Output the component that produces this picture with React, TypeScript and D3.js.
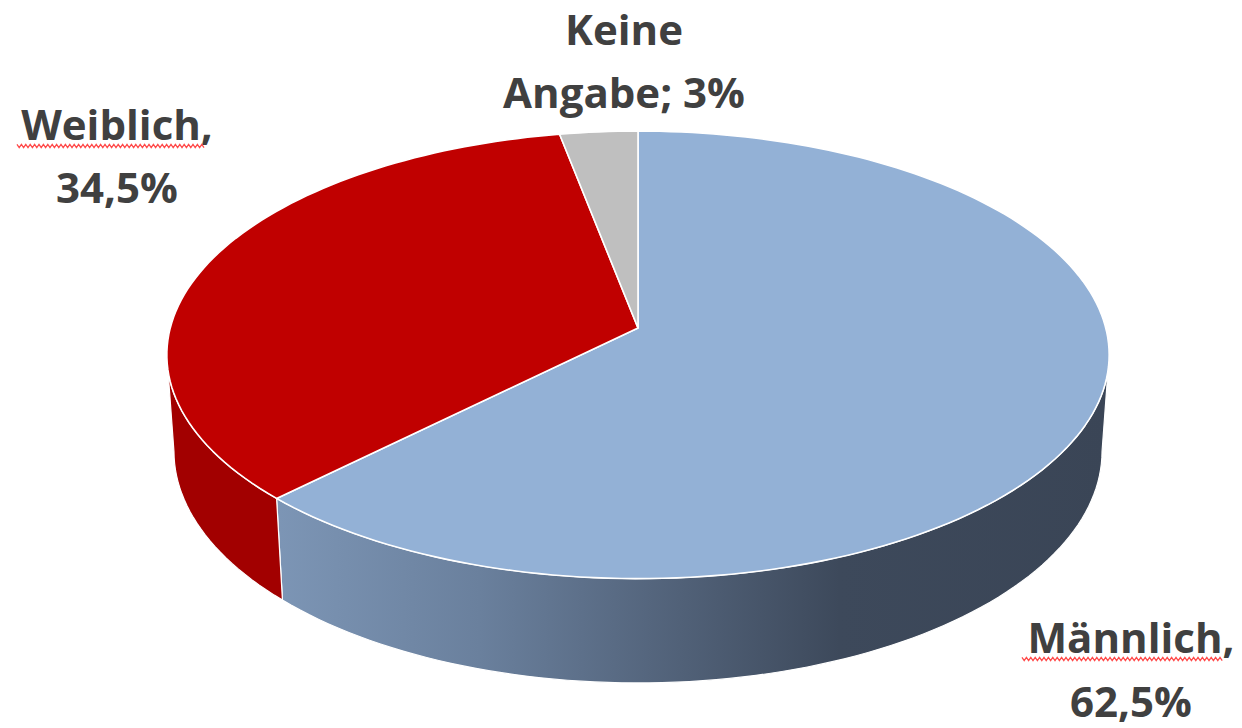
import { useMemo } from "react";
import * as d3 from "d3";

const categories = ["Männlich", "Weiblich", "Keine Angabe"];
const shares = [62.5, 34.5, 3];
const labelLines = [
  ["Männlich,", "62,5%"],
  ["Weiblich,", "34,5%"],
  ["Keine", "Angabe; 3%"],
];
const topColors = ["#93B1D6", "#C00000", "#BFBFBF"];

const WIDTH = 1242;
const HEIGHT = 728;

// pie geometry fitted to the picture: centre, perspective and thickness
const CX = 638;
const CY = 328;
const TILT = 0.491; // radians
const DIST = 7.35;
const FOCAL = 3438;
const THICK = 0.2356;

// label anchors (centre x, first baseline, line gap); wavy = spell-check underline
const LABEL_POS = [
  { x: 1131, y: 653, gap: 64, wavy: [1022, 1224] },
  { x: 117, y: 140, gap: 63, wavy: [17, 206] },
  { x: 624, y: 45, gap: 63, wavy: null as null | number[] },
];

const sinT = Math.sin(TILT);
const cosT = Math.cos(TILT);

function project(theta: number, r: number, h: number): [number, number] {
  const X = r * Math.sin(theta);
  const Z = r * Math.cos(theta);
  const yc = Z * sinT - h * cosT;
  const d = DIST + Z * cosT + h * sinT;
  return [CX + (FOCAL * X) / d, CY - (FOCAL * yc) / d];
}

function arcPoints(a0: number, a1: number, h: number) {
  const n = Math.max(2, Math.ceil(((a1 - a0) / (2 * Math.PI)) * 240));
  return d3.range(n + 1).map((i) => project(a0 + ((a1 - a0) * i) / n, 1, h));
}

function wavyPath(x0: number, x1: number, y: number) {
  const pts: [number, number][] = [];
  for (let x = x0, k = 0; x <= x1; x += 2.2, k++) pts.push([x, y + (k % 2 ? 1.6 : -1.6)]);
  return d3.line()(pts) ?? "";
}

export default function App() {
  const slices = useMemo(
    () =>
      d3
        .pie<number>()
        .sort(null)
        .value((d) => d)(shares),
    []
  );

  const line = d3.line();
  // front wall is visible between the two silhouette angles
  const visStart = Math.acos(-cosT / DIST);
  const visEnd = 2 * Math.PI - visStart;

  const walls = slices
    .map((s, i) => {
      const a0 = Math.max(s.startAngle, visStart);
      const a1 = Math.min(s.endAngle, visEnd);
      if (a1 <= a0) return null;
      const top = arcPoints(a0, a1, 0);
      const bottom = arcPoints(a0, a1, THICK).reverse();
      return { i, d: line([...top, ...bottom])! + "Z" };
    })
    .filter(Boolean) as { i: number; d: string }[];

  const tops = slices.map((s, i) => {
    const pts = [project(0, 0, 0), ...arcPoints(s.startAngle, s.endAngle, 0)];
    return { i, d: line(pts)! + "Z" };
  });

  const wallFill = ["url(#maleSide)", "#A20000", "#9A9A9A"];

  return (
    <div style={{ position: "absolute", left: 0, top: 0 }}>
      <svg width={WIDTH} height={HEIGHT} viewBox={`0 0 ${WIDTH} ${HEIGHT}`}>
        <defs>
          <linearGradient id="maleSide" gradientUnits="userSpaceOnUse" x1={270} y1={0} x2={1108} y2={0}>
            <stop offset="0" stopColor="#7D96B6" />
            <stop offset="0.25" stopColor="#6A809D" />
            <stop offset="0.45" stopColor="#55667E" />
            <stop offset="0.68" stopColor="#3D495B" />
            <stop offset="1" stopColor="#3A4556" />
          </linearGradient>
        </defs>
        <rect width={WIDTH} height={HEIGHT} fill="#ffffff" />
        {walls.map((w) => (
          <path key={"w" + w.i} d={w.d} fill={wallFill[w.i]} stroke="#ffffff" strokeWidth={1.2} strokeLinejoin="round" />
        ))}
        {tops.map((t) => (
          <path key={"t" + t.i} d={t.d} fill={topColors[t.i]} stroke="#ffffff" strokeWidth={1.6} strokeLinejoin="round" />
        ))}
        {categories.map((c, i) => {
          const p = LABEL_POS[i];
          return (
            <g key={c}>
              {labelLines[i].map((t, j) => (
                <text
                  key={j}
                  x={p.x}
                  y={p.y + j * p.gap}
                  textAnchor="middle"
                  fill="#404040"
                  style={{ fontFamily: "'Open Sans', sans-serif", fontWeight: 700, fontSize: 42 }}
                >
                  {t}
                </text>
              ))}
              {p.wavy && (
                <path d={wavyPath(p.wavy[0], p.wavy[1], p.y + 6)} fill="none" stroke="#FF4A4A" strokeWidth={1.3} />
              )}
            </g>
          );
        })}
      </svg>
    </div>
  );
}
